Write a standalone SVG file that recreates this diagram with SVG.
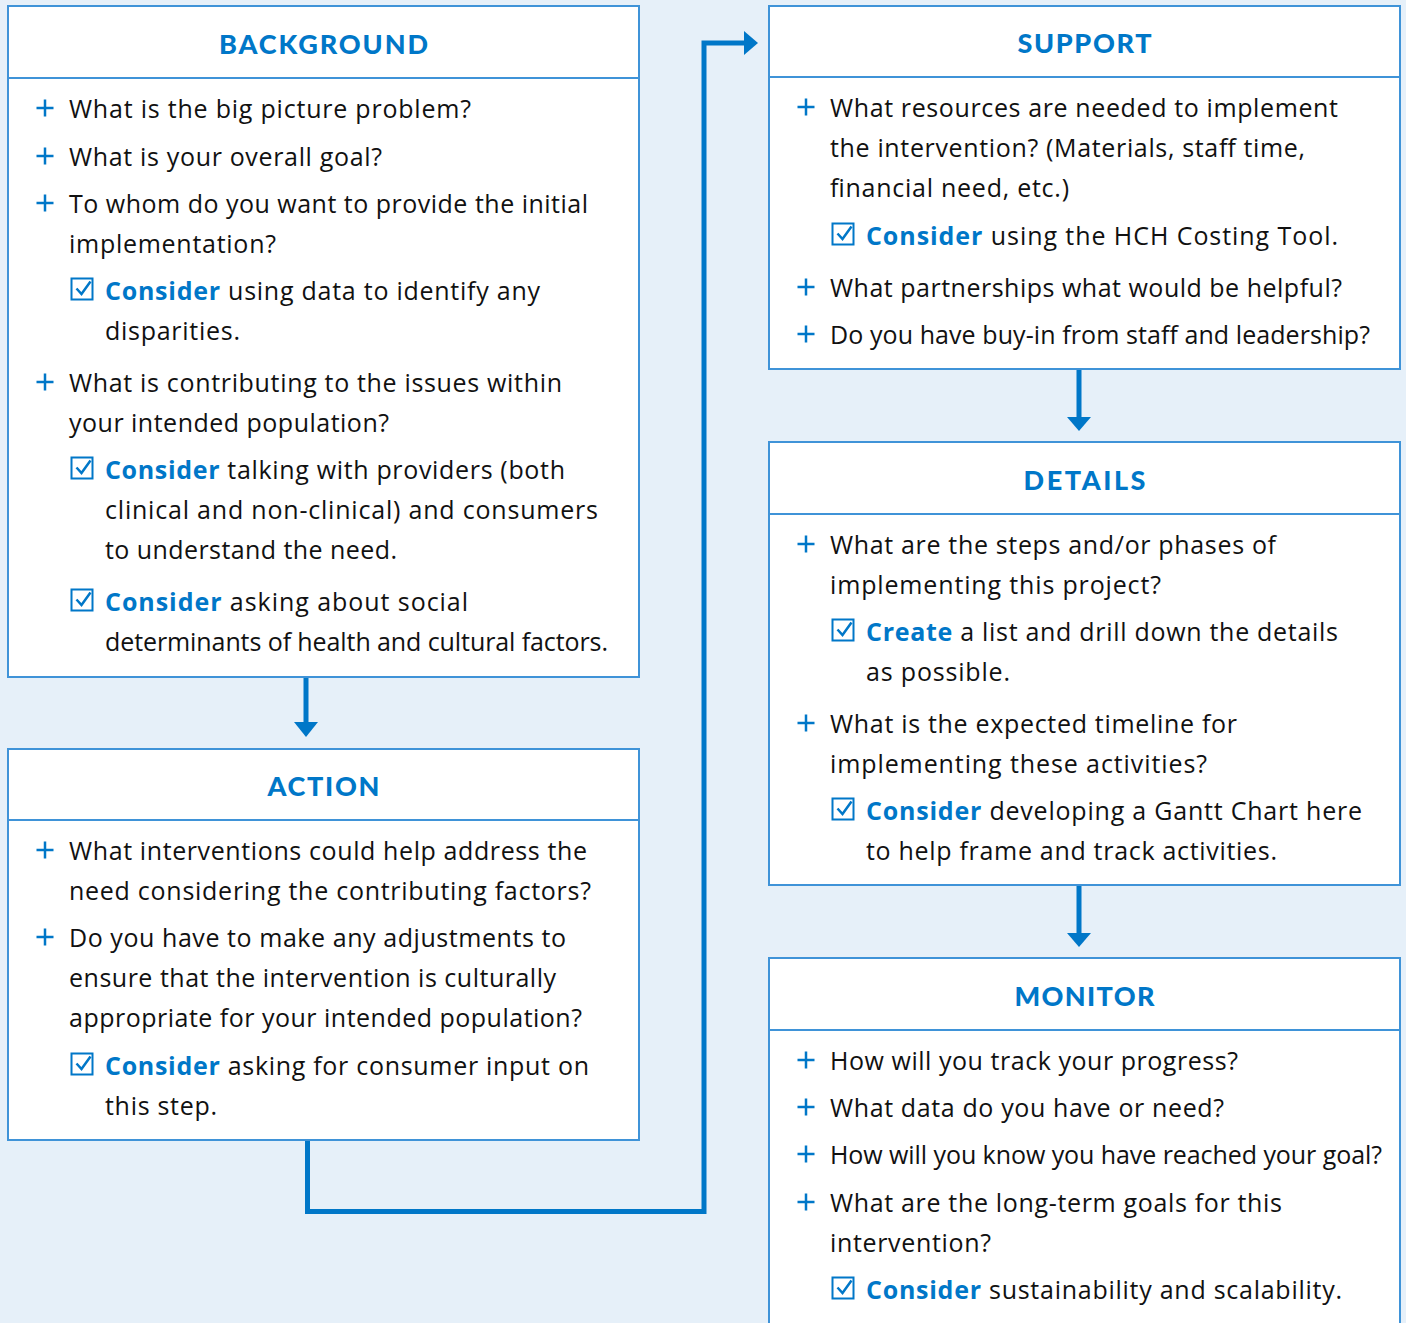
<svg xmlns="http://www.w3.org/2000/svg" width="1406" height="1323" viewBox="0 0 1406 1323">
<style>
.box{fill:#fff;stroke:#3f93d8;stroke-width:2}
.div{stroke:#3f93d8;stroke-width:2}
.hd{font-family:Lato,"Open Sans","Liberation Sans",sans-serif;font-weight:900;font-size:27px;fill:#0077c8;text-anchor:middle}
.t{font-family:"Open Sans","Liberation Sans",sans-serif;font-size:25px;fill:#111}
.b{font-weight:700;fill:#0077c8}
.con{fill:none;stroke:#0077c8;stroke-width:5}
.ah{fill:#0077c8}
</style>
<defs>
<g id="plus"><path d="M-8.5 0H8.5M0 -8.5V8.5" stroke="#0077c8" stroke-width="2.5" fill="none"/></g>
<g id="chk"><rect x="-10.5" y="-10.5" width="21" height="21" fill="none" stroke="#0077c8" stroke-width="2"/><path d="M-5.5 -0.5L-0.5 5L8.5 -7.5" fill="none" stroke="#0077c8" stroke-width="2.5"/></g>
</defs>
<rect width="1406" height="1323" fill="#e6f0f9"/>
<g id="connectors">
<path class="con" d="M306 677V722"/><path class="ah" d="M294 722H318L306 737Z"/>
<path class="con" d="M307.5 1140V1211.5H704V43H744"/><path class="ah" d="M744 31V55L758 43Z"/>
<path class="con" d="M1079 369V417"/><path class="ah" d="M1067 417H1091L1079 431Z"/>
<path class="con" d="M1079 885V933"/><path class="ah" d="M1067 933H1091L1079 947Z"/>
</g>
<g id="background">
<rect class="box" x="8" y="6" width="631" height="671"/><path class="div" d="M8 78H639"/>
<text class="hd" x="323.5" y="54" textLength="209">BACKGROUND</text>
<use href="#plus" x="45" y="108"/><text class="t" x="69" y="118" textLength="402">What is the big picture problem?</text>
<use href="#plus" x="45" y="156"/><text class="t" x="69" y="166" textLength="313">What is your overall goal?</text>
<use href="#plus" x="45" y="203"/><text class="t" x="69" y="213" textLength="519">To whom do you want to provide the initial</text>
<text class="t" x="69" y="253" textLength="207">implementation?</text>
<use href="#chk" x="82" y="289"/><text class="t" x="105" y="300" textLength="435"><tspan class="b">Consider</tspan> using data to identify any</text>
<text class="t" x="105" y="340" textLength="135">disparities.</text>
<use href="#plus" x="45" y="382"/><text class="t" x="69" y="392" textLength="493">What is contributing to the issues within</text>
<text class="t" x="69" y="432" textLength="320">your intended population?</text>
<use href="#chk" x="82" y="468"/><text class="t" x="105" y="479" textLength="460"><tspan class="b">Consider</tspan> talking with providers (both</text>
<text class="t" x="105" y="519" textLength="493">clinical and non-clinical) and consumers</text>
<text class="t" x="105" y="559" textLength="292">to understand the need.</text>
<use href="#chk" x="82" y="600"/><text class="t" x="105" y="611" textLength="363"><tspan class="b">Consider</tspan> asking about social</text>
<text class="t" x="105" y="651" textLength="503">determinants of health and cultural factors.</text>
</g>
<g id="action">
<rect class="box" x="8" y="749" width="631" height="391"/><path class="div" d="M8 820H639"/>
<text class="hd" x="323.5" y="796" textLength="112">ACTION</text>
<use href="#plus" x="45" y="850"/><text class="t" x="69" y="860" textLength="518">What interventions could help address the</text>
<text class="t" x="69" y="900" textLength="522">need considering the contributing factors?</text>
<use href="#plus" x="45" y="937"/><text class="t" x="69" y="947" textLength="497">Do you have to make any adjustments to</text>
<text class="t" x="69" y="987" textLength="487">ensure that the intervention is culturally</text>
<text class="t" x="69" y="1027" textLength="513">appropriate for your intended population?</text>
<use href="#chk" x="82" y="1064"/><text class="t" x="105" y="1075" textLength="484"><tspan class="b">Consider</tspan> asking for consumer input on</text>
<text class="t" x="105" y="1115" textLength="112">this step.</text>
</g>
<g id="support">
<rect class="box" x="769" y="6" width="631" height="363"/><path class="div" d="M769 77H1400"/>
<text class="hd" x="1084.5" y="53" textLength="134">SUPPORT</text>
<use href="#plus" x="806" y="107"/><text class="t" x="830" y="117" textLength="508">What resources are needed to implement</text>
<text class="t" x="830" y="157" textLength="475">the intervention? (Materials, staff time,</text>
<text class="t" x="830" y="197" textLength="239">financial need, etc.)</text>
<use href="#chk" x="843" y="234"/><text class="t" x="866" y="245" textLength="472"><tspan class="b">Consider</tspan> using the HCH Costing Tool.</text>
<use href="#plus" x="806" y="287"/><text class="t" x="830" y="297" textLength="512">What partnerships what would be helpful?</text>
<use href="#plus" x="806" y="334"/><text class="t" x="830" y="344" textLength="540">Do you have buy-in from staff and leadership?</text>
</g>
<g id="details">
<rect class="box" x="769" y="442" width="631" height="443"/><path class="div" d="M769 514H1400"/>
<text class="hd" x="1084.5" y="490" textLength="122">DETAILS</text>
<use href="#plus" x="806" y="544"/><text class="t" x="830" y="554" textLength="446">What are the steps and/or phases of</text>
<text class="t" x="830" y="594" textLength="331">implementing this project?</text>
<use href="#chk" x="843" y="630"/><text class="t" x="866" y="641" textLength="472"><tspan class="b">Create</tspan> a list and drill down the details</text>
<text class="t" x="866" y="681" textLength="144">as possible.</text>
<use href="#plus" x="806" y="723"/><text class="t" x="830" y="733" textLength="407">What is the expected timeline for</text>
<text class="t" x="830" y="773" textLength="377">implementing these activities?</text>
<use href="#chk" x="843" y="809"/><text class="t" x="866" y="820" textLength="496"><tspan class="b">Consider</tspan> developing a Gantt Chart here</text>
<text class="t" x="866" y="860" textLength="411">to help frame and track activities.</text>
</g>
<g id="monitor">
<rect class="box" x="769" y="958" width="631" height="400"/><path class="div" d="M769 1030H1400"/>
<text class="hd" x="1084.5" y="1006" textLength="140">MONITOR</text>
<use href="#plus" x="806" y="1060"/><text class="t" x="830" y="1070" textLength="408">How will you track your progress?</text>
<use href="#plus" x="806" y="1107"/><text class="t" x="830" y="1117" textLength="394">What data do you have or need?</text>
<use href="#plus" x="806" y="1154"/><text class="t" x="830" y="1164" textLength="552">How will you know you have reached your goal?</text>
<use href="#plus" x="806" y="1202"/><text class="t" x="830" y="1212" textLength="452">What are the long-term goals for this</text>
<text class="t" x="830" y="1252" textLength="161">intervention?</text>
<use href="#chk" x="843" y="1288"/><text class="t" x="866" y="1299" textLength="476"><tspan class="b">Consider</tspan> sustainability and scalability.</text>
</g>
</svg>
